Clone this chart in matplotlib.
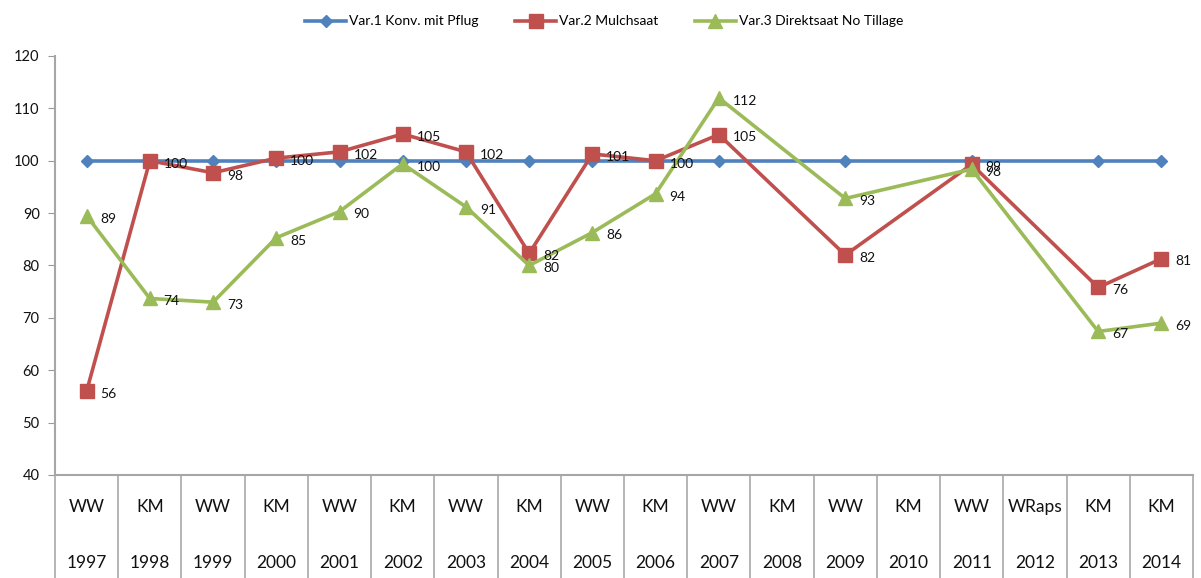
import numpy as np
import matplotlib
matplotlib.use("Agg")
import matplotlib.pyplot as plt
import matplotlib.transforms as mtransforms

crops = ["WW", "KM", "WW", "KM", "WW", "KM", "WW", "KM", "WW", "KM",
         "WW", "KM", "WW", "KM", "WW", "WRaps", "KM", "KM"]
years = ["1997", "1998", "1999", "2000", "2001", "2002", "2003", "2004", "2005",
         "2006", "2007", "2008", "2009", "2010", "2011", "2012", "2013", "2014"]
nan = np.nan
var1 = [100, 100, 100, 100, 100, 100, 100, 100, 100, 100, 100, nan, 100, nan, 100, nan, 100, 100]
var2 = [56.0, 100.0, 97.7, 100.5, 101.7, 105.1, 101.7, 82.3, 101.3, 100.0, 105.0, nan,
        82.0, nan, 99.3, nan, 75.8, 81.3]
var3 = [89.5, 73.7, 73.0, 85.3, 90.3, 99.4, 91.2, 80.0, 86.3, 93.7, 112.0, nan,
        92.8, nan, 98.4, nan, 67.4, 69.0]
var2_labels = [56, 100, 98, 100, 102, 105, 102, 82, 101, 100, 105, None, 82, None, 99, None, 76, 81]
var3_labels = [89, 74, 73, 85, 90, 100, 91, 80, 86, 94, 112, None, 93, None, 98, None, 67, 69]
names = ["Var.1 Konv. mit Pflug", "Var.2 Mulchsaat", "Var.3 Direktsaat No Tillage"]

plt.rcParams['font.family'] = ['Lato', 'DejaVu Sans']
fig = plt.figure(figsize=(12.01, 5.78), dpi=100)
ax = fig.add_axes([55/1201, 1-475/578, (1193-55)/1201, (475-56)/578])

x = np.arange(len(years))
colors = ["#4F81BD", "#C0504D", "#9BBB59"]
markers = ["D", "s", "^"]
msizes = [6.5, 9.5, 10]
series = [var1, var2, var3]
for s, c, m, ms, name in zip(series, colors, markers, msizes, names):
    arr = np.array(s, dtype=float)
    ok = ~np.isnan(arr)
    ax.plot(x[ok], arr[ok], color=c, lw=2.6, marker=m, markersize=ms,
            markeredgecolor=c, markerfacecolor=c, label=name, zorder=3)

for s, labs in [(var2, var2_labels), (var3, var3_labels)]:
    for xi, v, lab in zip(x, s, labs):
        if lab is None:
            continue
        ax.annotate(str(lab), (xi, v), xytext=(10, -2), textcoords="offset points",
                    ha="left", va="center", fontsize=10, color="#111111", zorder=5)

ax.set_xlim(-0.5, len(years) - 0.5)
ax.set_ylim(40, 120)
ax.set_yticks(np.arange(40, 121, 10))
ax.tick_params(axis='y', labelsize=10.5, length=5, color="#999999", pad=6, labelcolor="#111111")
ax.set_xticks([])
for sp in ["top", "right"]:
    ax.spines[sp].set_visible(False)
for sp in ["left", "bottom"]:
    ax.spines[sp].set_color("#a6a6a6")
    ax.spines[sp].set_linewidth(1.5)

trans = mtransforms.blended_transform_factory(ax.transData, ax.transAxes)
bottom_ax = -(578 - 475) / 419
for b in np.arange(-0.5, len(years), 1.0):
    ax.plot([b, b], [0, bottom_ax], transform=trans, clip_on=False,
            color="#b0b0b0", lw=1.3, zorder=1)
for xi, cr, yr in zip(x, crops, years):
    ax.text(xi, -32/419, cr, transform=trans, ha="center", va="center", fontsize=12.5, color="#111111")
    ax.text(xi, -88/419, yr, transform=trans, ha="center", va="center", fontsize=12.5, color="#111111")

fig.legend(loc="upper center", bbox_to_anchor=(0.503, 0.995), ncol=3, frameon=False,
           fontsize=10, handlelength=3.0, columnspacing=2.6, handletextpad=0.2)

fig.savefig("out.png", dpi=100)
